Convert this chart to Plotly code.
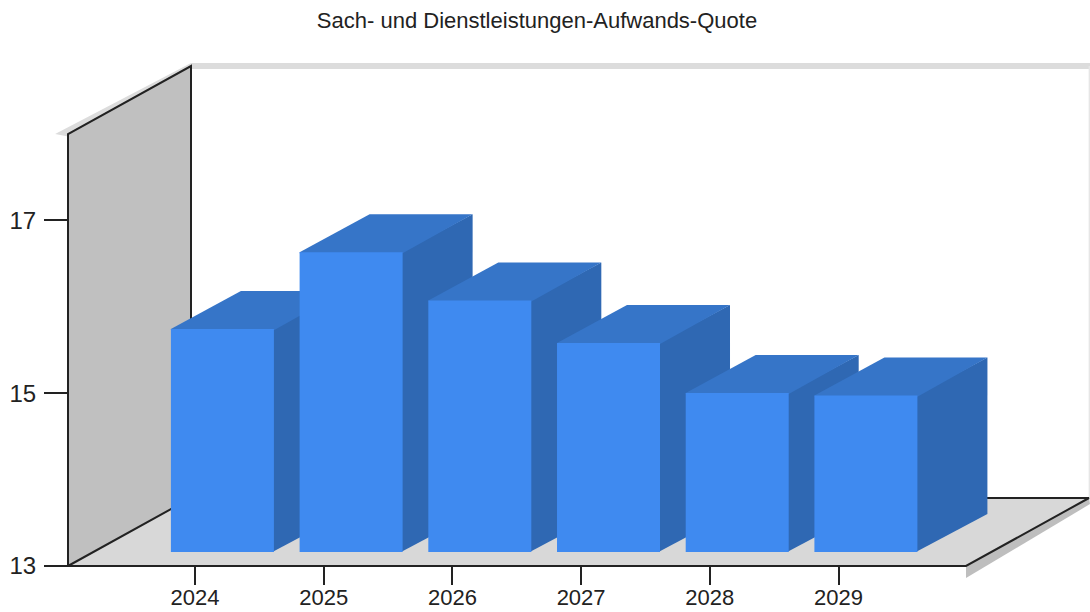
import plotly.graph_objects as go

# ---- data ----
title = "Sach- und Dienstleistungen-Aufwands-Quote"
categories = ["2024", "2025", "2026", "2027", "2028", "2029"]
values = [15.58, 16.47, 15.91, 15.42, 14.84, 14.81]
y_ticks = [13, 15, 17]

# ---- 3D projection parameters, in axis units ----
STEP = 128.7
XMIN, XMAX = -127 / STEP, 771 / STEP   # front edge of the floor
YMIN, YMAX = 13.0, 18.0                # front edge of the left wall
WALL_DX, WALL_DY = 123 / STEP, 0.787   # total chart depth
BAR_OX, BAR_OY = 0.213, 0.162          # bar front plane offset
BAR_DX, BAR_DY = 70 / STEP, 0.44       # bar depth
BAR_W = 103 / STEP
SEAM = 0.012                           # faces tuck under the front face
X_RANGE = [-195 / STEP, (1090 - 195) / STEP]
Y_RANGE = [13 - 46 / 86.4, 13 + 566 / 86.4]

FRONT = "#3f8af0"
TOP = "#3675c8"
SIDE = "#2f68b3"
WALL = "#c0c0c0"
FLOOR = "#d8d8d8"
SHADOW = "#dcdcdc"
FLOOR_SHADOW = "#bebebe"
INK = "#222222"

fig = go.Figure()


def poly(xs, ys, color):
    fig.add_trace(go.Scatter(x=xs, y=ys, mode="lines", fill="toself", fillcolor=color,
                             line=dict(width=0, color=color), hoverinfo="skip", showlegend=False))


def stroke(xs, ys, color=INK, width=2):
    fig.add_trace(go.Scatter(x=xs, y=ys, mode="lines", line=dict(width=width, color=color),
                             hoverinfo="skip", showlegend=False))


BX, BY = XMIN + WALL_DX, YMIN + WALL_DY   # back-left floor corner
TY = YMAX + WALL_DY                       # back-left wall top
RX = XMAX + WALL_DX                       # back-right floor corner

# soft shadow along the top of the walls
poly([XMIN - 0.1, BX, X_RANGE[1], X_RANGE[1], BX, XMIN],
     [YMAX, TY + 0.035, TY + 0.035, TY - 0.035, TY - 0.035, YMAX - 0.03], SHADOW)
stroke([RX + 0.003, RX + 0.003], [BY, TY], "#e6e6e6", 1.5)
# shadow below the floor
poly([XMAX, RX, X_RANGE[1], XMAX], [YMIN, BY, BY - 0.07, YMIN - 0.14], FLOOR_SHADOW)
# left wall and floor
poly([XMIN, BX, BX, XMIN], [YMIN, BY, TY, YMAX], WALL)
poly([XMIN, BX, RX, XMAX], [YMIN, BY, BY, YMIN], FLOOR)
# frame lines
stroke([XMIN, XMIN, BX, BX, XMIN], [YMIN, YMAX, TY, BY, YMIN])
stroke([BX, RX, XMAX, XMIN], [BY, BY, YMIN, YMIN])

# side and top faces, left to right; a bar of value v rises v - 13 above the raised base
base = YMIN + BAR_OY
tops = [v + BAR_OY for v in values]
for i, t in enumerate(tops):
    x0 = i + BAR_OX - BAR_W / 2
    x1 = i + BAR_OX + BAR_W / 2
    poly([x1 - SEAM, x1 + BAR_DX, x1 + BAR_DX, x1 - SEAM],
         [base, base + BAR_DY, t + BAR_DY, t], SIDE)
    poly([x0, x1, x1 + BAR_DX, x0 + BAR_DX, x0],
         [t - SEAM, t - SEAM, t + BAR_DY, t + BAR_DY, t], TOP)

# front faces on an overlaying subplot so that they cover the side faces
fig.add_trace(go.Bar(x=[i + BAR_OX for i in range(len(values))],
                     y=[v - YMIN for v in values], base=base, width=BAR_W,
                     marker=dict(color=FRONT, line=dict(width=0)),
                     xaxis="x2", yaxis="y2", hoverinfo="skip", showlegend=False))

FONT = "Liberation Sans, Arial, sans-serif"
fig.update_layout(
    width=1090, height=612, margin=dict(l=0, r=0, t=0, b=0),
    paper_bgcolor="white", plot_bgcolor="white", showlegend=False,
    title=dict(text=title, x=537 / 1090, xanchor="center", y=1 - 20 / 612, yanchor="middle",
               font=dict(family=FONT, size=22, color=INK)),
    xaxis=dict(range=X_RANGE, anchor="free", position=46 / 612, tickmode="array",
               tickvals=list(range(len(categories))), ticktext=categories,
               ticks="outside", ticklen=18, tickwidth=2, tickcolor=INK,
               tickfont=dict(family=FONT, size=22, color=INK), ticklabelstandoff=-6,
               showgrid=False, zeroline=False, showline=False),
    yaxis=dict(range=Y_RANGE, anchor="free", position=68 / 1090, tickmode="array",
               tickvals=y_ticks, ticktext=[str(t) for t in y_ticks],
               ticks="outside", ticklen=24, tickwidth=2, tickcolor=INK,
               tickfont=dict(family=FONT, size=24, color=INK), ticklabelstandoff=3,
               showgrid=False, zeroline=False, showline=False),
    xaxis2=dict(range=X_RANGE, overlaying="x", visible=False),
    yaxis2=dict(range=Y_RANGE, overlaying="y", visible=False),
)

fig.write_html("out.html", config=dict(displayModeBar=False),
               post_script="document.body.style.margin='0';")
